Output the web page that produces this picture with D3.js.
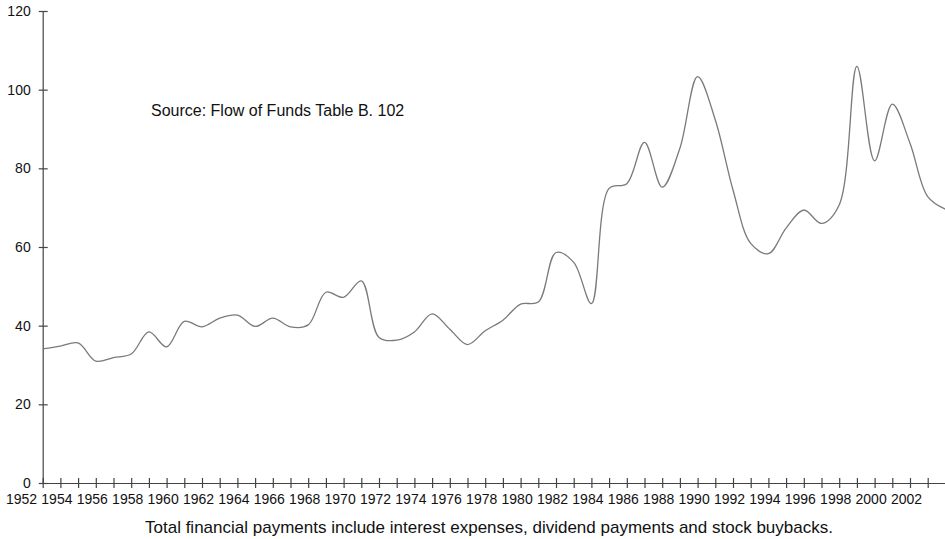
<!DOCTYPE html>
<html>
<head>
<meta charset="utf-8">
<script src="https://cdn.jsdelivr.net/npm/d3@7"></script>
<style>
  body { margin: 0; background: #fff; }
  svg { display: block; font-family: "Liberation Sans", Arial, sans-serif; }
  .axis path, .axis line { stroke: #444; stroke-width: 1.2; }
  .axis text { fill: #111; font-size: 14px; }
</style>
</head>
<body>
<div id="chart"></div>
<script>
// Total financial payments, one value per year
var years = [1953, 1954, 1955, 1956, 1957, 1958, 1959, 1960, 1961, 1962,
  1963, 1964, 1965, 1966, 1967, 1968, 1969, 1970, 1971, 1972,
  1973, 1974, 1975, 1976, 1977, 1978, 1979, 1980, 1981, 1982,
  1983, 1984, 1985, 1986, 1987, 1988, 1989, 1990, 1991, 1992,
  1993, 1994, 1995, 1996, 1997, 1998, 1999, 2000, 2001, 2002,
  2003, 2004];
var payments = [34.1, 34.8, 35.6, 31.0, 31.9, 32.8, 38.4, 34.6, 41.1, 39.7,
  41.9, 42.7, 39.8, 41.9, 39.7, 40.2, 48.5, 47.2, 51.4, 37.0,
  36.3, 38.4, 43.0, 39.1, 35.2, 38.7, 41.4, 45.5, 46.0, 58.6,
  56.1, 45.6, 74.9, 76.1, 86.6, 75.2, 85.1, 103.3, 92.3, 74.5,
  60.9, 58.3, 64.8, 69.4, 66.0, 70.7, 105.9, 81.9, 96.3, 86.4,
  72.8, 69.6];
var yTicks = [0, 20, 40, 60, 80, 100, 120];
var xLabelYears = d3.range(1952, 2003, 2);
var sourceNote = "Source: Flow of Funds Table B. 102";
var footNote = "Total financial payments include interest expenses, dividend payments and stock buybacks.";

var width = 945, height = 539;
var svg = d3.select("#chart").append("svg")
  .attr("width", width)
  .attr("height", height);

var x = d3.scaleLinear().domain([1953, 2004]).range([42.7, 945.4]);
var y = d3.scaleLinear().domain([0, 120]).range([483, 11]);

// y axis, ticks crossing the line
var yAxis = svg.append("g")
  .attr("class", "axis")
  .attr("transform", "translate(" + x(1953) + ",0)")
  .call(d3.axisLeft(y).tickValues(yTicks).tickSizeInner(4).tickSizeOuter(0).tickPadding(8));
yAxis.selectAll(".tick line").attr("x2", -4).attr("x1", 5);

// x axis: a tick every year
var xAxis = svg.append("g")
  .attr("class", "axis")
  .attr("transform", "translate(0," + y(0) + ")")
  .call(d3.axisBottom(x).tickValues(d3.range(1953, 2004)).tickSizeInner(5).tickSizeOuter(0).tickFormat(""));
xAxis.selectAll(".tick line").attr("y1", -5);

// year labels every two years, sitting a bit left of their ticks
var xLab = svg.append("g")
  .attr("class", "axis")
  .attr("transform", "translate(-4," + y(0) + ")")
  .call(d3.axisBottom(x).tickValues(xLabelYears).tickSize(0).tickPadding(11).tickFormat(d3.format("d")));
xLab.select(".domain").remove();

var line = d3.line()
  .x(function (d, i) { return x(years[i]); })
  .y(function (d) { return y(d); })
  .curve(d3.curveCatmullRom.alpha(0.5));

svg.append("path")
  .datum(payments)
  .attr("fill", "none")
  .attr("stroke", "#7a7a7a")
  .attr("stroke-width", 1.3)
  .attr("d", line);

svg.append("text")
  .attr("x", 151)
  .attr("y", 116)
  .attr("font-size", "16px")
  .attr("fill", "#111")
  .text(sourceNote);

svg.append("text")
  .attr("x", 145)
  .attr("y", 533)
  .attr("font-size", "17px")
  .attr("fill", "#111")
  .text(footNote);
</script>
</body>
</html>
